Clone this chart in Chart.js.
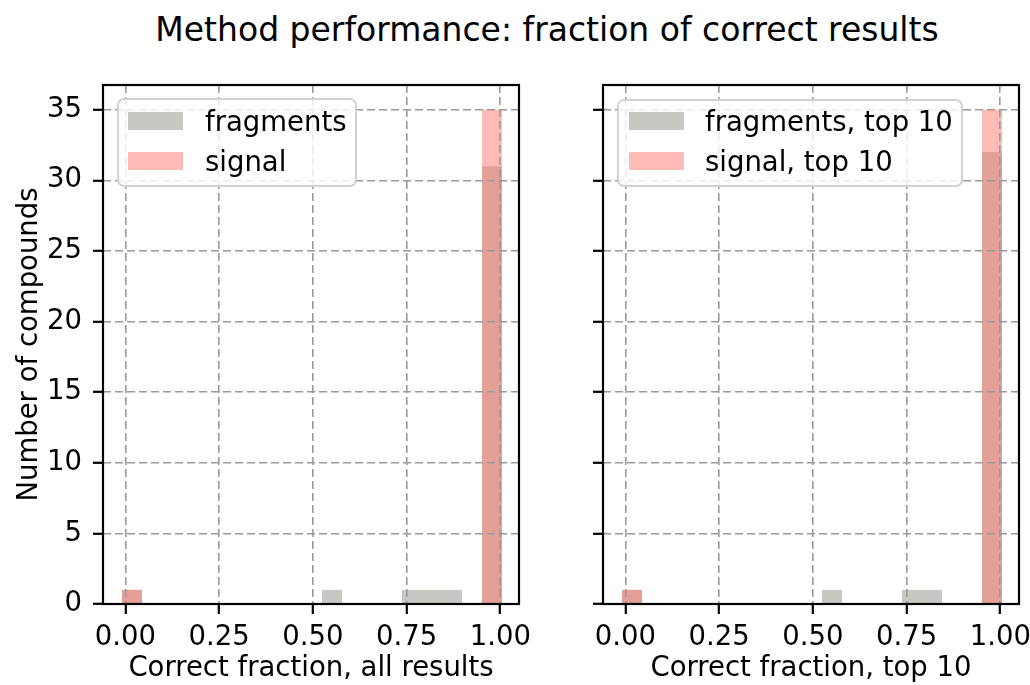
<!DOCTYPE html>
<html>
<head>
<meta charset="utf-8">
<script src="https://cdn.jsdelivr.net/npm/chart.js@4.4.0/dist/chart.umd.min.js"></script>
<style>
  body { margin: 0; background: #fff; font-family: 'DejaVu Sans', sans-serif; }
  #wrap { position: relative; width: 1030px; height: 685px; overflow: hidden; }
  canvas { position: absolute; top: 0; }
  #title { position: absolute; top: 13px; left: 547px; transform: translateX(-50%); font-size: 33px; line-height: 1; white-space: nowrap; color: #000; }
  .legend { position: absolute; box-sizing: border-box; border: 2px solid #d2d2d2; border-radius: 7px; background: rgba(255,255,255,0.8); }
  .legend .sw { position: absolute; width: 55px; height: 18px; }
  .legend .lbl { position: absolute; font-size: 27.5px; line-height: 40px; white-space: nowrap; color: #000; }
</style>
</head>
<body>
<div id="wrap">
  <div id="title">Method performance: fraction of correct results</div>
  <canvas id="left" width="530" height="685" style="left:0"></canvas>
  <canvas id="right" width="500" height="685" style="left:530px"></canvas>
  <div class="legend" style="left:117px; top:98px; width:240px; height:89px;">
    <span class="sw" style="left:9px; top:12px; background:rgb(199,200,196)"></span>
    <span class="lbl" style="left:86px; top:1px;">fragments</span>
    <span class="sw" style="left:9px; top:52px; background:rgb(255,187,182)"></span>
    <span class="lbl" style="left:86px; top:41px;">signal</span>
  </div>
  <div class="legend" style="left:617px; top:99px; width:346px; height:88px;">
    <span class="sw" style="left:10px; top:11px; background:rgb(199,200,196)"></span>
    <span class="lbl" style="left:86px; top:0px;">fragments, top 10</span>
    <span class="sw" style="left:10px; top:51px; background:rgb(255,187,182)"></span>
    <span class="lbl" style="left:86px; top:40px;">signal, top 10</span>
  </div>
</div>
<script>
// histogram bin edges (19 bins)
const binEdges = [-0.0093, 0.044066, 0.097432, 0.150798, 0.204164, 0.25753, 0.310896, 0.364262,
  0.417628, 0.470994, 0.52436, 0.577726, 0.631092, 0.684458, 0.737824, 0.79119, 0.844556,
  0.897922, 0.951288, 1.004654];
// counts per bin
const fragmentsAll = [1, 0, 0, 0, 0, 0, 0, 0, 0, 0, 1, 0, 0, 0, 1, 1, 1, 0, 31];
const signalAll    = [1, 0, 0, 0, 0, 0, 0, 0, 0, 0, 0, 0, 0, 0, 0, 0, 0, 0, 35];
const fragmentsTop = [1, 0, 0, 0, 0, 0, 0, 0, 0, 0, 1, 0, 0, 0, 1, 1, 0, 0, 32];
const signalTop    = [1, 0, 0, 0, 0, 0, 0, 0, 0, 0, 0, 0, 0, 0, 0, 0, 0, 0, 35];
const xTicks = [0, 0.25, 0.5, 0.75, 1.0];
const yTicks = [0, 5, 10, 15, 20, 25, 30, 35];

Chart.defaults.font.family = "'DejaVu Sans', sans-serif";
Chart.defaults.font.size = 27.5;
Chart.defaults.color = '#000';

function toPoints(counts) {
  return counts.map((c, i) => ({ x: (binEdges[i] + binEdges[i + 1]) / 2, y: c }));
}

// matplotlib style box around the axes
const framePlugin = {
  id: 'frame',
  afterDraw(chart) {
    const { ctx, chartArea: a } = chart;
    ctx.save();
    ctx.strokeStyle = '#000';
    ctx.lineWidth = 2.2;
    ctx.strokeRect(a.left, a.top, a.right - a.left, a.bottom - a.top);
    ctx.restore();
  }
};

function makePanel(id, frag, sig, xTitle, withYLabels) {
  const grid = {
    color: '#9a9a9a', lineWidth: 1.6, z: 1, offset: false,
    tickColor: '#000', tickWidth: 2.2, tickLength: 10, tickBorderDash: []
  };
  new Chart(document.getElementById(id), {
    type: 'bar',
    data: {
      datasets: [
        { label: 'fragments', data: toPoints(frag), backgroundColor: 'rgba(143,145,137,0.5)', order: 1 },
        { label: 'signal', data: toPoints(sig), backgroundColor: 'rgba(255,119,109,0.5)', order: 0 }
      ]
    },
    options: {
      responsive: false,
      animation: false,
      events: [],
      layout: { padding: { top: 85, right: 11, left: 0, bottom: 0 } },
      datasets: {
        bar: { grouped: false, barPercentage: 1, categoryPercentage: 1, borderWidth: 0, inflateAmount: 0 }
      },
      plugins: { legend: { display: false }, tooltip: { enabled: false } },
      scales: {
        x: {
          type: 'linear', min: -0.06, max: 1.05, bounds: 'data', offset: false,
          afterBuildTicks: s => { s.ticks = xTicks.map(v => ({ value: v })); },
          ticks: { callback: v => v.toFixed(2), padding: 7, maxRotation: 0, autoSkip: false },
          grid: grid,
          border: { display: false, dash: [8, 4] },
          title: { display: true, text: xTitle, padding: { top: 0, bottom: 0 } },
          afterFit: s => { s.height = 81; s.paddingLeft = 0; s.paddingRight = 0; }
        },
        y: {
          type: 'linear', min: 0, max: 36.75, bounds: 'data',
          afterBuildTicks: s => { s.ticks = yTicks.map(v => ({ value: v })); },
          ticks: { padding: 11, display: withYLabels },
          grid: grid,
          border: { display: false, dash: [8, 4] },
          title: { display: withYLabels, text: 'Number of compounds', padding: { top: 13, bottom: 0 } },
          afterFit: s => { s.width = withYLabels ? 103 : 73; s.paddingTop = 0; s.paddingBottom = 0; }
        }
      }
    },
    plugins: [framePlugin]
  });
}

makePanel('left', fragmentsAll, signalAll, 'Correct fraction, all results', true);
makePanel('right', fragmentsTop, signalTop, 'Correct fraction, top 10', false);
</script>
</body>
</html>
